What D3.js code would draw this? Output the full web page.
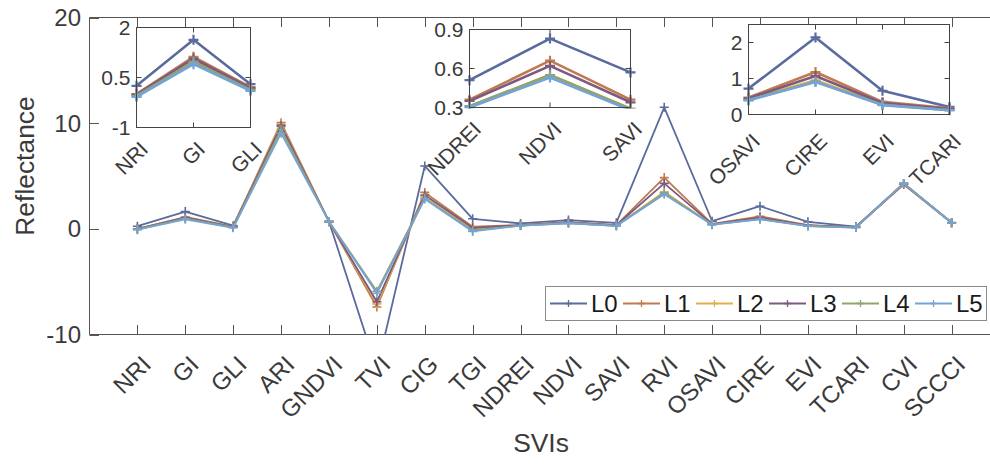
<!DOCTYPE html>
<html><head><meta charset="utf-8">
<script src="https://cdn.jsdelivr.net/npm/d3@7"></script>
<style>body{margin:0;background:#fff}svg{display:block;font-family:"Liberation Sans",Arial,sans-serif}</style>
</head><body><svg id="c" width="990" height="464"></svg>
<script>
const categories = ["NRI","GI","GLI","ARI","GNDVI","TVI","CIG","TGI","NDREI","NDVI","SAVI","RVI","OSAVI","CIRE","EVI","TCARI","CVI","SCCCI"];
const seriesNames = ["L0","L1","L2","L3","L4","L5"];
const L0 = [0.25,1.63,0.30,9.70,0.70,-13.3,5.95,0.95,0.51,0.83,0.57,11.5,0.72,2.14,0.66,0.21,4.30,0.60];
const L1 = [0.00,1.12,0.21,10.05,0.68,-7.40,3.45,0.20,0.36,0.66,0.36,4.85,0.47,1.18,0.35,0.17,4.20,0.58];
const L2 = [-0.03,1.02,0.15,9.90,0.68,-7.10,3.10,0.00,0.31,0.55,0.29,3.50,0.42,0.95,0.28,0.13,4.30,0.58];
const L3 = [-0.01,1.07,0.18,9.80,0.68,-6.90,3.20,0.10,0.35,0.62,0.34,4.30,0.45,1.07,0.32,0.15,4.25,0.58];
const L4 = [-0.05,0.97,0.13,9.40,0.70,-5.90,2.90,-0.15,0.31,0.55,0.29,3.40,0.40,0.92,0.27,0.12,4.30,0.58];
const L5 = [-0.08,0.90,0.10,9.05,0.70,-6.10,2.83,-0.25,0.30,0.53,0.28,3.27,0.39,0.90,0.26,0.12,4.30,0.58];
const seriesValues = [L0,L1,L2,L3,L4,L5];
const colors = ["#5a6b9d","#c17a4f","#e0b04e","#7d5a7f","#8fa56c","#74a3d8"];
const mainYTicks = [-10,0,10,20];
const inset1Cats = ["NRI","GI","GLI"], inset1Ticks = [-1,0.5,2];
const inset2Cats = ["NDREI","NDVI","SAVI"], inset2Ticks = [0.3,0.6,0.9];
const inset3Cats = ["OSAVI","CIRE","EVI","TCARI"], inset3Ticks = [0,1,2];

const svg = d3.select("#c");
const axisCol = "#555", textCol = "#3a3a3a";

// main scales
const x = d3.scaleLinear().domain([0,19]).range([89.5,999.5]);
const y = d3.scaleLinear().domain([-10,20]).range([334.5,17.5]);

svg.append("defs").append("clipPath").attr("id","mainclip").append("rect")
  .attr("x",89.5).attr("y",17.5).attr("width",910).attr("height",317);

const main = svg.append("g");
// ticks
const ticksG = main.append("g").attr("stroke",axisCol).attr("stroke-width",1);
categories.forEach((c,i)=>{
  const xx = Math.round(x(i+1))+0.5;
  ticksG.append("line").attr("x1",xx).attr("x2",xx).attr("y1",334.5).attr("y2",325);
  ticksG.append("line").attr("x1",xx).attr("x2",xx).attr("y1",17.5).attr("y2",27);
});
mainYTicks.forEach(v=>{
  const yy = Math.round(y(v))+0.5;
  ticksG.append("line").attr("x1",89.5).attr("x2",99).attr("y1",yy).attr("y2",yy);
});
// box
main.append("path").attr("d","M999.5,17.5H89.5V334.5H999.5").attr("fill","none").attr("stroke",axisCol).attr("stroke-width",1);

// y tick labels
main.append("g").selectAll("text").data(mainYTicks).join("text")
  .attr("x",81).attr("y",d=>y(d)).attr("dy","0.36em").attr("text-anchor","end")
  .attr("font-size",24).attr("fill",textCol).text(d=>d);
// x tick labels
main.append("g").selectAll("text").data(categories).join("text")
  .attr("transform",(d,i)=>`translate(${x(i+1)+15},${366}) rotate(-45)`)
  .attr("text-anchor","end").attr("font-size",24).attr("fill",textCol).text(d=>d);
// axis labels
main.append("text").attr("transform","translate(34,166) rotate(-90)").attr("text-anchor","middle")
  .attr("font-size",26.4).attr("fill",textCol).text("Reflectance");
main.append("text").attr("x",541).attr("y",452).attr("text-anchor","middle")
  .attr("font-size",26.4).attr("fill",textCol).text("SVIs");

function plus(g, px, py, s, col, w){
  g.append("path").attr("d",`M${px-s},${py}H${px+s}M${px},${py-s}V${py+s}`)
   .attr("stroke",col).attr("stroke-width",w).attr("fill","none");
}

// main lines
const linesG = main.append("g").attr("clip-path","url(#mainclip)");
seriesValues.forEach((vals,si)=>{
  const line = d3.line().x((d,i)=>x(i+1)).y(d=>y(d));
  linesG.append("path").datum(vals).attr("d",line).attr("fill","none")
    .attr("stroke",colors[si]).attr("stroke-width",1.8).attr("stroke-linejoin","round");
  const mg = linesG.append("g");
  vals.forEach((v,i)=>plus(mg, x(i+1), y(v), 4.5, colors[si], 1.6));
});

// insets
function inset(id, cats, idxStart, ticks, x0, x1, y0, y1, ydom, ytickFmt, labelOff){
  const g = svg.append("g");
  const xs = d3.scaleLinear().domain([0,cats.length-1]).range([x0,x1]);
  const ys = d3.scaleLinear().domain(ydom).range([y1,y0]);
  g.append("rect").attr("x",x0).attr("y",y0).attr("width",x1-x0).attr("height",y1-y0).attr("fill","#fff");
  svg.select("defs").append("clipPath").attr("id",id).append("rect")
    .attr("x",x0-6).attr("y",y0-1).attr("width",x1-x0+12).attr("height",y1-y0+2);
  const lg = g.append("g").attr("clip-path",`url(#${id})`);
  seriesValues.forEach((vals,si)=>{
    const sub = vals.slice(idxStart, idxStart+cats.length);
    const line = d3.line().x((d,i)=>xs(i)).y(d=>ys(d));
    lg.append("path").datum(sub).attr("d",line).attr("fill","none")
      .attr("stroke",colors[si]).attr("stroke-width",2.6).attr("stroke-linejoin","round");
    sub.forEach((v,i)=>plus(lg, xs(i), ys(v), 5, colors[si], 2.2));
  });
  const tg = g.append("g").attr("stroke","#444").attr("stroke-width",1);
  cats.forEach((c,i)=>{
    const xx = xs(i);
    tg.append("line").attr("x1",xx).attr("x2",xx).attr("y1",y1).attr("y2",y1-5);
    tg.append("line").attr("x1",xx).attr("x2",xx).attr("y1",y0).attr("y2",y0+5);
  });
  ticks.forEach(v=>{
    const yy = ys(v);
    tg.append("line").attr("x1",x0).attr("x2",x0+5).attr("y1",yy).attr("y2",yy);
    tg.append("line").attr("x1",x1).attr("x2",x1-5).attr("y1",yy).attr("y2",yy);
  });
  g.append("rect").attr("x",x0).attr("y",y0).attr("width",x1-x0).attr("height",y1-y0)
    .attr("fill","none").attr("stroke","#444").attr("stroke-width",1);
  g.append("g").selectAll("text").data(ticks).join("text")
    .attr("x",x0-6).attr("y",d=>ys(d)).attr("dy","0.36em").attr("text-anchor","end")
    .attr("font-size",21).attr("fill",textCol).text(ytickFmt);
  g.append("g").selectAll("text").data(cats).join("text")
    .attr("transform",(d,i)=>`translate(${xs(i)+13},${y1+labelOff}) rotate(-45)`)
    .attr("text-anchor","end").attr("font-size",21).attr("fill",textCol).text(d=>d);
}
inset("in1", inset1Cats, 0, inset1Ticks, 136.5, 250.5, 27.5, 127.5, [-1,2], d=>d, 23);
inset("in2", inset2Cats, 8, inset2Ticks, 469.5, 630.5, 29.5, 107.5, [0.3,0.9], d=>d.toFixed(1), 23);
inset("in3", inset3Cats, 12, inset3Ticks, 748.5, 949.5, 24.5, 114.5, [0,2.5], d=>d, 28);

// legend
const lg = svg.append("g");
lg.append("rect").attr("x",545.5).attr("y",286.5).attr("width",441).attr("height",34)
  .attr("fill","#fff").attr("stroke","#8a8a8a").attr("stroke-width",1);
seriesNames.forEach((n,i)=>{
  const lx = 550 + i*73;
  lg.append("line").attr("x1",lx).attr("x2",lx+37).attr("y1",303.5).attr("y2",303.5)
    .attr("stroke",colors[i]).attr("stroke-width",1.8);
  plus(lg, lx+18.5, 303.5, 3.5, colors[i], 1.3);
  lg.append("text").attr("x",lx+41).attr("y",303.5).attr("dy","0.36em")
    .attr("font-size",24).attr("fill","#1a1a1a").text(n);
});
</script></body></html>
